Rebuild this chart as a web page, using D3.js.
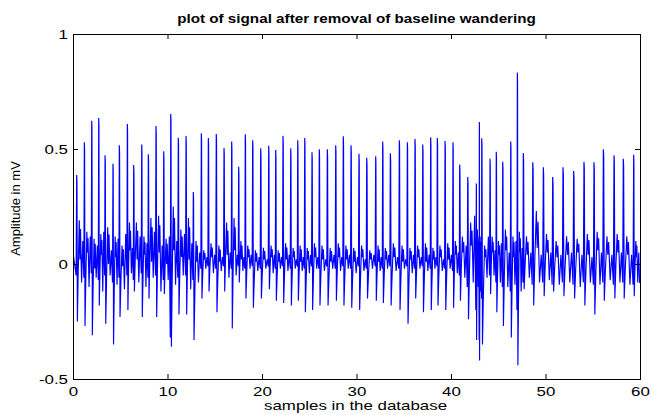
<!DOCTYPE html>
<html>
<head>
<meta charset="utf-8">
<script src="https://cdn.jsdelivr.net/npm/d3@7"></script>
<style>
  html, body { margin: 0; padding: 0; background: #fff; }
  svg { display: block; }
  text { font-family: "Liberation Sans", Arial, sans-serif; fill: #000; }
</style>
</head>
<body>
<svg id="chart" width="652" height="415"></svg>
<script>
// ---- data ----
const titleText = "plot of signal after removal of baseline wandering";
const xLabel = "samples in the database";
const yLabel = "Amplitude in mV";
const xTicks = [0, 10, 20, 30, 40, 50, 60];
const yTicks = [-0.5, 0, 0.5, 1];

// R-peak times (x) and amplitudes
const rTime = [0.39,1.20,1.98,2.72,3.39,4.23,4.90,5.75,6.42,7.27,7.97,8.78,9.60,10.34,11.14,11.96,12.73,13.58,14.32,15.16,15.98,16.79,17.53,18.23,19.01,19.86,20.71,21.45,22.22,23.04,23.78,24.52,25.29,26.06,26.91,27.80,28.60,29.42,30.26,31.08,32.03,32.77,33.58,34.53,35.38,36.19,37.01,37.85,38.55,39.37,40.21,40.92,41.77,42.68,43.00,43.25,44.13,44.79,45.47,46.32,47.02,47.65,48.65,49.77,50.76,51.85,52.98,54.07,55.13,56.12,57.25,58.23,59.33];
const rAmp = [0.387,0.529,0.623,0.635,0.473,0.436,0.516,0.609,0.430,0.520,0.477,0.600,0.490,0.652,0.549,0.557,0.313,0.568,0.548,0.565,0.504,0.533,0.423,0.564,0.538,0.503,0.514,0.496,0.557,0.503,0.538,0.548,0.486,0.499,0.499,0.516,0.555,0.516,0.479,0.462,0.468,0.533,0.481,0.538,0.529,0.543,0.520,0.551,0.548,0.535,0.529,0.432,0.378,0.350,0.617,0.547,0.458,0.488,0.445,0.533,0.832,0.483,0.442,0.421,0.378,0.421,0.404,0.444,0.442,0.499,0.473,0.458,0.475];
// trough right after each R peak
const sAmp = [-0.25,-0.27,-0.31,-0.18,-0.26,-0.35,-0.23,-0.20,-0.12,-0.23,-0.15,-0.23,-0.13,-0.36,-0.22,-0.22,-0.33,-0.15,-0.12,-0.21,-0.12,-0.28,-0.08,-0.15,-0.19,-0.15,-0.11,-0.16,-0.17,-0.18,-0.16,-0.21,-0.20,-0.18,-0.18,-0.16,-0.18,-0.19,-0.20,-0.15,-0.16,-0.17,-0.18,-0.20,-0.26,-0.15,-0.21,-0.20,-0.18,-0.20,-0.19,-0.16,-0.24,-0.33,-0.42,-0.35,-0.13,-0.21,-0.27,-0.32,-0.44,-0.11,-0.18,-0.14,-0.12,-0.14,-0.15,-0.18,-0.22,-0.16,-0.15,-0.15,-0.14];
// hump between beats
const tAmp = [0.19,0.14,0.11,0.13,0.16,0.12,0.08,0.18,0.18,0.12,0.20,0.21,0.11,0.25,0.15,0.20,0.10,0.06,0.09,0.08,0.18,0.20,0.10,0.08,0.06,0.07,0.08,0.06,0.09,0.07,0.08,0.07,0.09,0.08,0.07,0.09,0.08,0.07,0.08,0.06,0.08,0.07,0.09,0.08,0.07,0.08,0.09,0.07,0.08,0.09,0.10,0.12,0.18,0.15,0.12,0.08,0.12,0.10,0.15,0.12,0.14,0.12,0.23,0.13,0.10,0.12,0.11,0.13,0.14,0.12,0.13,0.12,0.10];
// small notch after the hump
const wAmp = [0.02,0.05,-0.02,0.04,0.00,0.03,-0.01,0.06,0.02,0.04,0.01,0.05,0.00,0.06,0.03,0.02,0.01,0.02,0.03,0.01,0.04,0.06,0.02,0.03,0.01,0.02,0.03,0.01,0.02,0.03,0.01,0.02,0.03,0.02,0.01,0.03,0.02,0.01,0.03,0.02,0.01,0.02,0.03,0.01,0.02,0.03,0.01,0.02,0.03,0.02,0.04,0.05,0.08,0.06,0.04,0.03,0.05,0.04,0.06,0.03,0.05,0.04,0.07,0.05,0.03,0.04,0.05,0.04,0.06,0.04,0.05,0.04,0.03];
// dip in the middle of the interval
const dAmp = [-0.08,-0.10,-0.06,-0.12,-0.05,-0.09,-0.11,-0.04,-0.08,-0.10,-0.06,-0.12,-0.07,-0.09,-0.05,-0.11,-0.08,-0.02,-0.04,-0.03,-0.06,-0.05,-0.03,-0.02,-0.03,-0.02,-0.04,-0.02,-0.03,-0.02,-0.03,-0.04,-0.02,-0.03,-0.02,-0.03,-0.02,-0.04,-0.03,-0.02,-0.03,-0.02,-0.03,-0.02,-0.04,-0.02,-0.03,-0.02,-0.03,-0.02,-0.04,-0.06,-0.08,-0.10,-0.12,-0.06,-0.05,-0.08,-0.10,-0.09,-0.12,-0.06,-0.08,-0.07,-0.09,-0.08,-0.10,-0.08,-0.09,-0.07,-0.08,-0.09,-0.08];
// small wave before each R
const pAmp = [0.10,0.12,0.08,0.14,0.06,0.11,0.13,0.07,0.12,0.09,0.14,0.08,0.12,0.10,0.13,0.09,0.05,0.03,0.04,0.03,0.05,0.04,0.03,0.04,0.03,0.02,0.04,0.03,0.04,0.02,0.03,0.04,0.03,0.02,0.04,0.03,0.04,0.03,0.02,0.04,0.03,0.04,0.03,0.02,0.04,0.03,0.04,0.03,0.02,0.04,0.05,0.08,0.21,0.10,0.08,0.12,0.06,0.09,0.05,0.10,0.07,0.05,0.04,0.05,0.04,0.05,0.04,0.03,0.05,0.04,0.05,0.04,0.05];
// level just before each R
const qAmp = [-0.05,-0.06,-0.04,-0.07,-0.05,-0.08,-0.06,-0.05,-0.07,-0.04,-0.06,-0.05,-0.07,-0.32,-0.06,-0.05,-0.07,-0.02,-0.01,-0.02,-0.01,-0.02,-0.01,-0.02,-0.01,-0.02,-0.01,-0.02,-0.01,-0.02,-0.01,-0.02,-0.01,-0.02,-0.01,-0.02,-0.01,-0.02,-0.01,-0.02,-0.01,-0.02,-0.01,-0.02,-0.01,-0.02,-0.01,-0.02,-0.01,-0.02,-0.03,-0.05,-0.10,-0.20,-0.33,-0.15,-0.05,-0.08,-0.10,-0.12,-0.20,-0.08,-0.09,-0.08,-0.09,-0.08,-0.09,-0.08,-0.09,-0.08,-0.09,-0.08,-0.09];
const startVal = 0.05, endVal = -0.08;

// ---- build the trace from the beats ----
const pts = [[0, startVal]];
const n = rTime.length;
pts.push([rTime[0] - 0.06, qAmp[0]]);
for (let i = 0; i < n; i++) {
  const t = rTime[i];
  const D = (i < n - 1 ? rTime[i + 1] : 60) - t;
  pts.push([t, rAmp[i]]);
  pts.push([t + 0.035 * D, rAmp[i] - 0.03]);
  pts.push([t + 0.09 * D, sAmp[i]]);
  pts.push([t + 0.2 * D, (sAmp[i] + tAmp[i]) / 2]);
  pts.push([t + 0.34 * D, tAmp[i]]);
  pts.push([t + 0.42 * D, wAmp[i]]);
  pts.push([t + 0.5 * D, tAmp[i] * 0.8]);
  pts.push([t + 0.64 * D, dAmp[i]]);
  pts.push([t + 0.8 * D, pAmp[i]]);
  pts.push([t + 0.94 * D, i < n - 1 ? qAmp[i + 1] : endVal]);
}
pts.push([60, endVal]);

// ---- drawing ----
const svg = d3.select("#chart");
const L = 73, R = 640, T = 34, B = 379;
const x = d3.scaleLinear().domain([0, 60]).range([L, R]);
const y = d3.scaleLinear().domain([-0.5, 1]).range([B, T]);
const SX = 1.3;

svg.append("rect").attr("width", 652).attr("height", 415).attr("fill", "#fff");

const clip = svg.append("clipPath").attr("id", "clip");
clip.append("rect").attr("x", L).attr("y", T).attr("width", R - L).attr("height", B - T);

svg.append("path")
  .datum(pts)
  .attr("clip-path", "url(#clip)")
  .attr("fill", "none")
  .attr("stroke", "#0000ff")
  .attr("stroke-width", 1.15)
  .attr("d", d3.line().x(d => x(d[0])).y(d => y(d[1])));

// axes with inward ticks
const fmt = d => String(d);
const gB = svg.append("g").attr("transform", `translate(0,${B})`)
  .call(d3.axisBottom(x).tickValues(xTicks).tickSizeInner(-5).tickSizeOuter(0).tickPadding(7.5).tickFormat(fmt));
const gL = svg.append("g").attr("transform", `translate(${L},0)`)
  .call(d3.axisLeft(y).tickValues(yTicks).tickSizeInner(-5).tickSizeOuter(0).tickPadding(5).tickFormat(fmt));
svg.append("g").attr("transform", `translate(0,${T})`)
  .call(d3.axisTop(x).tickValues(xTicks).tickSizeInner(-5).tickSizeOuter(0).tickFormat(""));
svg.append("g").attr("transform", `translate(${R},0)`)
  .call(d3.axisRight(y).tickValues(yTicks).tickSizeInner(-5).tickSizeOuter(0).tickFormat(""));

svg.selectAll(".domain").remove();
svg.selectAll(".tick line").attr("stroke", "#000").attr("stroke-width", 1);
svg.selectAll(".tick text").attr("font-size", 13).attr("font-family", "Liberation Sans, Arial, sans-serif").attr("fill", "#000");
gB.selectAll(".tick text").attr("transform", `scale(${SX},1)`);
gL.selectAll(".tick text").attr("x", -5 / SX).attr("transform", `scale(${SX},1)`);

svg.append("rect")
  .attr("x", L + 0.5).attr("y", T + 0.5).attr("width", R - L).attr("height", B - T)
  .attr("fill", "none").attr("stroke", "#000").attr("stroke-width", 1);

// title and labels
svg.append("text")
  .attr("transform", `translate(${(L + R) / 2},22.5) scale(1.27,1)`)
  .attr("text-anchor", "middle").attr("font-size", 12).attr("font-weight", "bold")
  .text(titleText);
svg.append("text")
  .attr("transform", `translate(${(L + R) / 2 - 1},410) scale(${SX},1)`)
  .attr("text-anchor", "middle").attr("font-size", 13)
  .text(xLabel);
svg.append("text")
  .attr("transform", `translate(20,208.5) rotate(-90)`)
  .attr("text-anchor", "middle").attr("font-size", 13)
  .text(yLabel);
</script>
</body>
</html>
